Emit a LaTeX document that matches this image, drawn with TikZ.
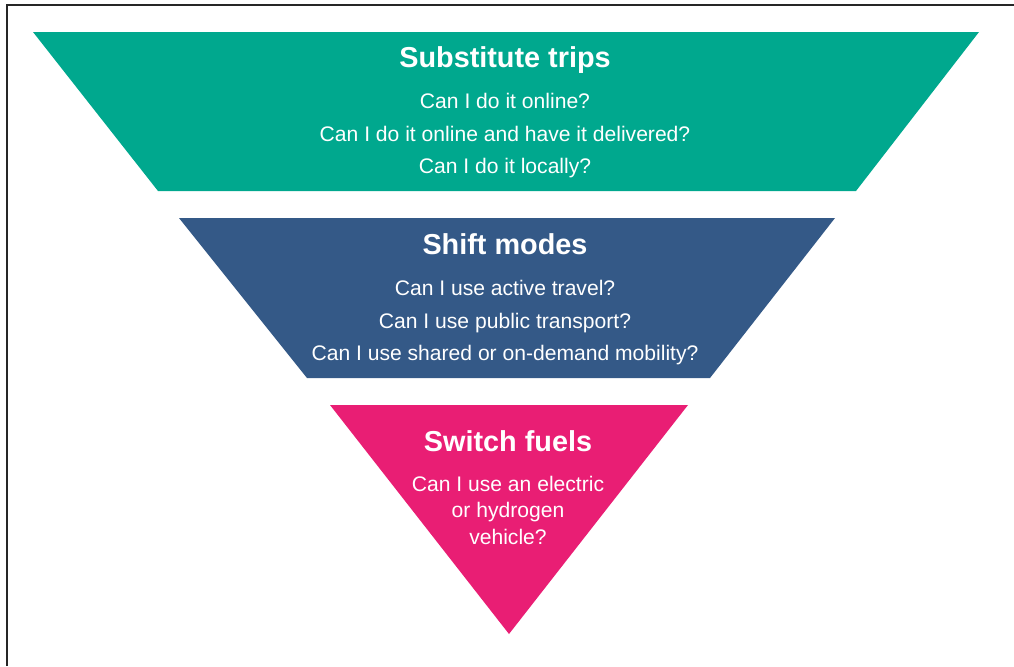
\documentclass[tikz,border=0pt]{standalone}
\usepackage{fontspec}
\setmainfont{Liberation Sans}
\usetikzlibrary{positioning}
\definecolor{tripgreen}{RGB}{0,168,142}
\definecolor{modeblue}{RGB}{52,89,135}
\definecolor{fuelpink}{RGB}{233,30,116}

\begin{document}
\begin{tikzpicture}[x=0.025cm,y=-0.025cm,
  head/.style={anchor=base,text=white,font=\fontsize{20.5}{24}\selectfont\bfseries},
  ask/.style={anchor=base,text=white,font=\fontsize{15}{18}\selectfont}]
\useasboundingbox (0,0) rectangle (1014,666);
\draw[black!85,line width=1.4pt] (7,666) -- (7,5) -- (1014,5);
% the three bands
\fill[tripgreen] (33,32) -- (979,32) -- (856,191) -- (158,191) -- cycle;
\fill[modeblue] (179,218) -- (835,218) -- (710,378) -- (307,378) -- cycle;
\fill[fuelpink] (330,405) -- (688,405) -- (509,634) -- cycle;
% substitute trips
\node[head] (trips) at (505,67) {Substitute trips};
\node[ask] (trips1) at (505,108) {Can I do it online?};
\node[ask] (trips2) at (505,141) {Can I do it online and have it delivered?};
\node[ask] (trips3) at (505,173) {Can I do it locally?};
% shift modes
\node[head] (modes) at (505,254) {Shift modes};
\node[ask] (modes1) at (505,295) {Can I use active travel?};
\node[ask] (modes2) at (505,328) {Can I use public transport?};
\node[ask] (modes3) at (505,360) {Can I use shared or on-demand mobility?};
% switch fuels
\node[head] (fuels) at (508,451) {Switch fuels};
\node[ask] (fuels1) at (508,491) {Can I use an electric};
\node[ask] (fuels2) at (508,517) {or hydrogen};
\node[ask] (fuels3) at (508,544) {vehicle?};
\end{tikzpicture}
\end{document}
